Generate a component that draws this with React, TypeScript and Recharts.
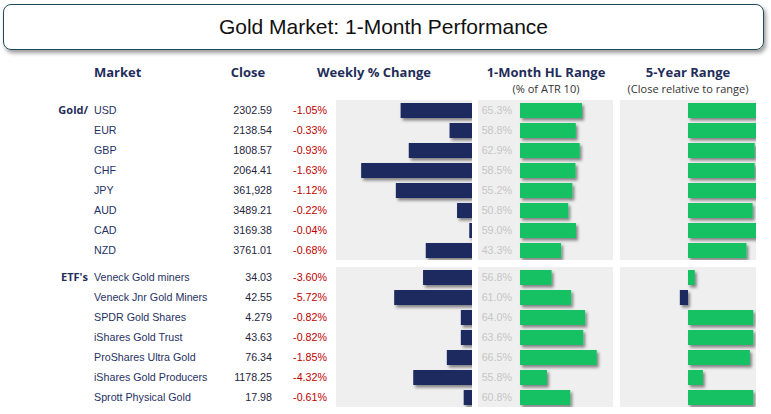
import React from 'react';
import { BarChart, Bar, XAxis, YAxis, Cell } from 'recharts';

// Gold priced in currencies
const goldMarkets = ['USD', 'EUR', 'GBP', 'CHF', 'JPY', 'AUD', 'CAD', 'NZD'];
const goldClose = ['2302.59', '2138.54', '1808.57', '2064.41', '361,928', '3489.21', '3169.38', '3761.01'];
const goldWeekly = [-1.05, -0.33, -0.93, -1.63, -1.12, -0.22, -0.04, -0.68];
const goldHL = [65.3, 58.8, 62.9, 58.5, 55.2, 50.8, 59.0, 43.3];
const goldFiveYear = [100, 100, 98, 98, 100, 95, 100, 86];

// Gold ETFs
const etfMarkets = [
  'Veneck Gold miners',
  'Veneck Jnr Gold Miners',
  'SPDR Gold Shares',
  'iShares Gold Trust',
  'ProShares Ultra Gold',
  'iShares Gold Producers',
  'Sprott Physical Gold',
];
const etfClose = ['34.03', '42.55', '4.279', '43.63', '76.34', '1178.25', '17.98'];
const etfWeekly = [-3.6, -5.72, -0.82, -0.82, -1.85, -4.32, -0.61];
const etfHL = [56.8, 61.0, 64.0, 63.6, 66.5, 55.8, 60.8];
const etfFiveYear = [10, -12, 96, 96, 91, 22, 96];

const NAVY = '#1b2a5f';
const GREEN = '#13c164';
const HEAD = '#1f2d5a';
const PANEL = '#efefef';
const ROW_H = 20;
const ROW_FONT = "Arial, 'Liberation Sans', sans-serif";
const HEAD_FONT = "'Open Sans', 'Noto Sans', sans-serif";

type Row = { name: string; close: string; weekly: number; hl: number; fiveYear: number };

const buildRows = (names: string[], close: string[], weekly: number[], hl: number[], fy: number[]): Row[] =>
  names.map((name, i) => ({ name, close: close[i], weekly: weekly[i], hl: hl[i], fiveYear: fy[i] }));

const goldRows = buildRows(goldMarkets, goldClose, goldWeekly, goldHL, goldFiveYear);
const etfRows = buildRows(etfMarkets, etfClose, etfWeekly, etfHL, etfFiveYear);

const ShadowBar = (props: any) => {
  const { x, y, width, height, fill } = props;
  const w = Math.abs(width);
  const rx = width < 0 ? x + width : x;
  const h = Math.abs(height);
  const ry = height < 0 ? y + height : y;
  return <rect x={rx} y={ry} width={w} height={h} fill={fill} filter="url(#barShadow)" />;
};

const Panel = ({ left, top, width, height }: any) => (
  <div style={{ position: 'absolute', left, top, width, height, background: PANEL }} />
);

function Section({ rows, group, top, weeklyDomain, hlDomain }: any) {
  const h = rows.length * ROW_H;
  const find = (v: string) => rows.find((r: Row) => r.name === v) as Row;

  const rowTick = (p: any) => {
    const r = find(p.payload.value);
    const idx = rows.indexOf(r);
    return (
      <g fontFamily={ROW_FONT} fontSize={10.7}>
        {idx === 0 && (
          <text x={88} y={p.y} dy="0.35em" textAnchor="end" fill={HEAD} fontFamily={HEAD_FONT} fontWeight={700} fontSize={11}>
            {group}
          </text>
        )}
        <text x={94} y={p.y} dy="0.35em" fill="#1f3264">{r.name}</text>
        <text x={272} y={p.y} dy="0.35em" textAnchor="end" fill="#262640">{r.close}</text>
        <text x={327} y={p.y} dy="0.35em" textAnchor="end" fill="#c00000">{r.weekly.toFixed(2)}%</text>
      </g>
    );
  };

  const hlTick = (p: any) => {
    const r = find(p.payload.value);
    return (
      <text x={34} y={p.y} dy="0.35em" textAnchor="end" fill="#c6c6c6" fontFamily={ROW_FONT} fontSize={10.7}>
        {r.hl.toFixed(1)}%
      </text>
    );
  };

  return (
    <>
      <Panel left={336} top={top} width={136} height={h} />
      <Panel left={478} top={top} width={135} height={h} />
      <Panel left={620} top={top} width={136} height={h} />

      <div style={{ position: 'absolute', left: 0, top }}>
        <BarChart width={472} height={h} data={rows} layout="vertical" margin={{ top: 0, right: 0, bottom: 0, left: 0 }} barSize={15}>
          <XAxis type="number" domain={weeklyDomain} hide />
          <YAxis type="category" dataKey="name" width={336} axisLine={false} tickLine={false} interval={0} tick={rowTick} />
          <Bar dataKey="weekly" fill={NAVY} isAnimationActive={false} shape={ShadowBar} />
        </BarChart>
      </div>

      <div style={{ position: 'absolute', left: 478, top }}>
        <BarChart width={135} height={h} data={rows} layout="vertical" margin={{ top: 0, right: 0, bottom: 0, left: 0 }} barSize={15}>
          <XAxis type="number" domain={hlDomain} hide />
          <YAxis type="category" dataKey="name" width={42} axisLine={false} tickLine={false} interval={0} tick={hlTick} />
          <Bar dataKey="hl" fill={GREEN} isAnimationActive={false} shape={ShadowBar} />
        </BarChart>
      </div>

      <div style={{ position: 'absolute', left: 620, top }}>
        <BarChart width={136} height={h} data={rows} layout="vertical" margin={{ top: 0, right: 0, bottom: 0, left: 0 }} barSize={15}>
          <XAxis type="number" domain={[-100, 100]} hide />
          <YAxis type="category" dataKey="name" hide />
          <Bar dataKey="fiveYear" isAnimationActive={false} shape={ShadowBar}>
            {rows.map((r: Row, i: number) => (
              <Cell key={`fy-${i}`} fill={r.fiveYear < 0 ? NAVY : GREEN} />
            ))}
          </Bar>
        </BarChart>
      </div>
    </>
  );
}

const Header = ({ cx, cy, text, bold = true, size = 13, color = HEAD }: any) => (
  <div
    style={{
      position: 'absolute',
      left: cx - 100,
      top: cy - 9,
      width: 200,
      lineHeight: '18px',
      textAlign: 'center',
      fontFamily: HEAD_FONT,
      fontWeight: bold ? 700 : 400,
      fontSize: size,
      color,
      whiteSpace: 'nowrap',
    }}
  >
    {text}
  </div>
);

export default function App() {
  return (
    <div style={{ position: 'absolute', left: 0, top: 0, width: 771, height: 414, background: '#fff', overflow: 'hidden' }}>
      <svg width={0} height={0} style={{ position: 'absolute' }}>
        <defs>
          <filter id="barShadow" filterUnits="userSpaceOnUse" x={-100} y={-100} width={1000} height={1000}>
            <feDropShadow dx={2} dy={2.5} stdDeviation={1.5} floodColor="#000" floodOpacity={0.45} />
          </filter>
        </defs>
      </svg>

      <div
        style={{
          position: 'absolute',
          left: 3,
          top: 4,
          width: 759,
          height: 44,
          border: '1.5px solid #1d4a5a',
          borderRadius: 8,
          boxShadow: '2px 3px 4px rgba(0,0,0,0.4)',
          display: 'flex',
          alignItems: 'center',
          justifyContent: 'center',
          fontFamily: ROW_FONT,
          fontSize: 21,
          color: '#111',
        }}
      >
        Gold Market: 1-Month Performance
      </div>

      <div style={{ position: 'absolute', left: 94, top: 63, lineHeight: '18px', fontFamily: HEAD_FONT, fontWeight: 700, fontSize: 13, color: HEAD }}>
        Market
      </div>
      <Header cx={248} cy={72} text="Close" />
      <Header cx={374} cy={72} text="Weekly % Change" />
      <Header cx={546} cy={72} text="1-Month HL Range" />
      <Header cx={546} cy={89} text="(% of ATR 10)" bold={false} size={11} color="#333" />
      <Header cx={688} cy={72} text="5-Year Range" />
      <Header cx={688} cy={89} text="(Close relative to range)" bold={false} size={11} color="#333" />

      <Section rows={goldRows} group="Gold/" top={100} weeklyDomain={[-2, 0]} hlDomain={[0, 98]} />
      <Section rows={etfRows} group="ETF's" top={267} weeklyDomain={[-10, 0]} hlDomain={[50, 70]} />
    </div>
  );
}
